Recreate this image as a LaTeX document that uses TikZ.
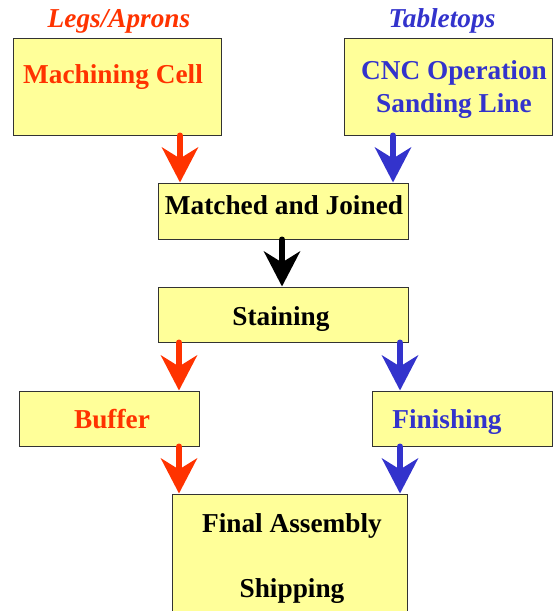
\documentclass[tikz,border=0pt]{standalone}
\usepackage{fontspec}
\setmainfont{Liberation Serif}
\usetikzlibrary{arrows.meta}
\definecolor{myred}{HTML}{FF3300}
\definecolor{myblue}{HTML}{3333CC}
\definecolor{myyellow}{HTML}{FFFF99}
\definecolor{myborder}{HTML}{333333}
\tikzset{
  box/.style={draw=myborder, line width=1pt, fill=myyellow, inner sep=0pt},
  lbl/.style={anchor=base, inner sep=0pt, font=\fontsize{27.3}{33}\selectfont\bfseries, align=center},
  flow/.style={line width=6pt, line cap=round, -{Stealth[length=35pt,width=36pt,inset=11pt]}},
  redflow/.style={flow, draw=myred, fill=myred},
  blueflow/.style={flow, draw=myblue, fill=myblue},
  blackflow/.style={flow, draw=black, fill=black}
}
\begin{document}
\begin{tikzpicture}[x=1pt,y=-1pt]
\useasboundingbox (0,0) rectangle (553,611);
\clip (0,0) rectangle (553,611);
% boxes
\node[box, minimum width=208pt, minimum height=97pt] (mc) at (117,86.5) {};
\node[box, minimum width=208pt, minimum height=97pt] (cnc) at (448,86.5) {};
\node[box, minimum width=250pt, minimum height=56pt] (mj) at (283,211) {};
\node[box, minimum width=250pt, minimum height=55pt] (st) at (283,314.5) {};
\node[box, minimum width=180pt, minimum height=55pt] (bu) at (109,418.5) {};
\node[box, minimum width=180pt, minimum height=55pt] (fi) at (462,418.5) {};
\node[box, minimum width=235pt, minimum height=160pt] (fa) at (289.5,574) {};
% labels
\node[lbl, text=myred, font=\fontsize{27.3}{33}\selectfont\bfseries\itshape] (legs) at (119,27) {Legs/Aprons};
\node[lbl, text=myblue, font=\fontsize{27.3}{33}\selectfont\bfseries\itshape] (tops) at (442,27) {Tabletops};
\node[lbl, text=myred] (tmc) at (113,83) {Machining Cell};
\node[lbl, text=myblue] (tcnc) at (454,112) {CNC Operation\\Sanding Line};
\node[lbl] (tmj) at (284,214) {Matched and Joined};
\node[lbl] (tst) at (281,325) {Staining};
\node[lbl, text=myred] (tbu) at (112,428) {Buffer};
\node[lbl, text=myblue] (tfi) at (447,428) {Finishing};
\node[lbl] (tfa) at (292,597) {Final Assembly\\[32pt]Shipping};
% column coordinates
\coordinate (cr1) at (180,0);
\coordinate (cb1) at (393,0);
\coordinate (ck) at (282,0);
\coordinate (cr2) at (179,0);
\coordinate (cb2) at (400,0);
% connectors
\draw[redflow] (mc.south -| cr1) -- (mj.north -| cr1);
\draw[blueflow] (cnc.south -| cb1) -- (mj.north -| cb1);
\draw[blackflow] (mj.south -| ck) -- (st.north -| ck);
\draw[redflow] (st.south -| cr2) -- (bu.north -| cr2);
\draw[blueflow] (st.south -| cb2) -- (fi.north -| cb2);
\draw[redflow] (bu.south -| cr2) -- (fa.north -| cr2);
\draw[blueflow] (fi.south -| cb2) -- (fa.north -| cb2);
\end{tikzpicture}
\end{document}
